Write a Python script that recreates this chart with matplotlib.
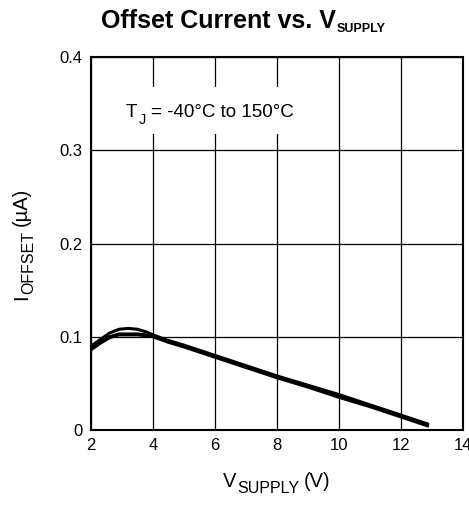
import matplotlib
matplotlib.use("Agg")
import matplotlib.pyplot as plt
from matplotlib.transforms import IdentityTransform
from matplotlib.patches import Rectangle

plt.rcParams['font.family'] = ['Liberation Sans', 'DejaVu Sans']

# Data: V_SUPPLY (V) vs I_OFFSET (uA), three temperature curves
v_a = [2.0, 2.3, 2.6, 2.9, 3.2, 3.5, 3.8, 4.0, 4.5, 5.0, 6.0, 7.0, 8.0, 9.0, 10.0, 11.0, 12.0, 12.9]
i_a = [0.090, 0.097, 0.104, 0.108, 0.109, 0.108, 0.105, 0.102, 0.096, 0.091, 0.080, 0.069, 0.058, 0.048, 0.038, 0.027, 0.016, 0.006]
v_b = [2.0, 2.3, 2.6, 2.9, 3.2, 3.5, 3.8, 4.0, 4.5, 5.0, 6.0, 7.0, 8.0, 9.0, 10.0, 11.0, 12.0, 12.9]
i_b = [0.088, 0.095, 0.100, 0.103, 0.103, 0.103, 0.102, 0.101, 0.095, 0.090, 0.079, 0.068, 0.057, 0.047, 0.036, 0.026, 0.015, 0.005]
v_c = [2.0, 2.3, 2.6, 2.9, 3.2, 3.5, 3.8, 4.0, 4.5, 5.0, 6.0, 7.0, 8.0, 9.0, 10.0, 11.0, 12.0, 12.9]
i_c = [0.086, 0.093, 0.099, 0.102, 0.102, 0.102, 0.101, 0.100, 0.094, 0.089, 0.078, 0.067, 0.056, 0.046, 0.035, 0.025, 0.014, 0.004]

x_ticks = [2, 4, 6, 8, 10, 12, 14]
y_ticks = [0, 0.1, 0.2, 0.3, 0.4]
y_tick_labels = ['0', '0.1', '0.2', '0.3', '0.4']

W, H = 469, 512
fig = plt.figure(figsize=(W / 100, H / 100), dpi=100)
ax = fig.add_axes([91 / W, 1 - 430 / H, (463 - 91) / W, (430 - 57) / H])

for v, i in [(v_a, i_a), (v_b, i_b), (v_c, i_c)]:
    ax.plot(v, i, color='black', lw=2.2, solid_capstyle='butt', zorder=3)

ax.set_xlim(2, 14)
ax.set_ylim(0, 0.4)
ax.set_xticks(x_ticks)
ax.set_yticks(y_ticks)
ax.set_yticklabels(y_tick_labels)
ax.grid(True, color='black', lw=0.9)
ax.set_axisbelow(True)
ax.tick_params(length=0, labelsize=12, pad=6)
for s in ax.spines.values():
    s.set_linewidth(1.5)
    s.set_color('black')

renderer = fig.canvas.get_renderer()


def compound(pieces, anchor, base, rotation=0, center=True):
    """pieces: (text, size, weight, drop_px, gap_px). Placed in pixel coords."""
    objs = []
    pos = 0.0
    for txt, size, weight, drop, gap in pieces:
        pos += gap
        if rotation == 0:
            t = fig.text(pos, base - drop, txt, fontsize=size, fontweight=weight,
                         ha='left', va='baseline', rotation_mode='anchor',
                         transform=IdentityTransform(), zorder=5)
            bb = t.get_window_extent(renderer)
            pos = bb.x1
        else:
            t = fig.text(base + drop, pos, txt, fontsize=size, fontweight=weight,
                         ha='left', va='baseline', rotation=90, rotation_mode='anchor',
                         transform=IdentityTransform(), zorder=5)
            bb = t.get_window_extent(renderer)
            pos = bb.y1
        objs.append(t)
    shift = anchor - pos / 2 if center else anchor
    for t in objs:
        x, y = t.get_position()
        if rotation == 0:
            t.set_position((x + shift, y))
        else:
            t.set_position((x, y + shift))
    return objs


# Title
compound([('Offset Current vs. V', 18, 'bold', 0, 0),
          ('SUPPLY', 9, 'bold', 3.5, 0.5)], anchor=243, base=H - 28)

# X label
compound([('V', 14.5, 'normal', 0, 0),
          ('SUPPLY', 11.5, 'normal', 6, 0.5),
          ('(V)', 14.5, 'normal', 0, 5)], anchor=277, base=H - 487)

# Y label
compound([('I', 14.5, 'normal', 0, 0),
          ('OFFSET', 11.5, 'normal', 6, 0.5),
          ('(µA)', 14.5, 'normal', 0, 5)], anchor=H - 244, base=27, rotation=90)

# Annotation box
fig.add_artist(Rectangle((112, H - 134), 195, 47, transform=IdentityTransform(),
                         facecolor='white', edgecolor='none', zorder=1))
compound([('T', 13.5, 'normal', 0, 0),
          ('J', 10.5, 'normal', 7, 1),
          ('= -40°C to 150°C', 13.5, 'normal', 0, 5)], anchor=126, base=H - 117, center=False)

fig.savefig('out.png', dpi=100)
